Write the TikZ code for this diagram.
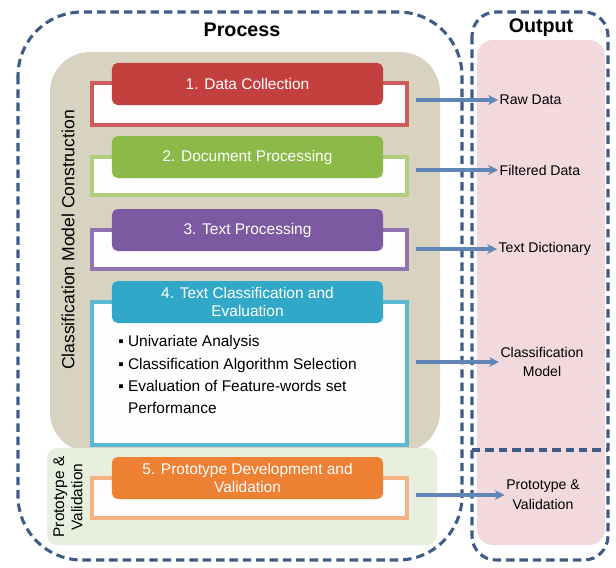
\documentclass[tikz,border=0pt]{standalone}
\usepackage{fontspec}
\setmainfont{Liberation Sans}
\usetikzlibrary{positioning,arrows.meta}
\definecolor{dashblue}{RGB}{62,92,135}
\definecolor{cmcbeige}{RGB}{216,211,193}
\definecolor{pvgreen}{RGB}{233,239,223}
\definecolor{outpink}{RGB}{242,217,221}
\definecolor{arrowblue}{RGB}{96,134,184}
\definecolor{stepred}{RGB}{196,64,62}
\definecolor{stepgreen}{RGB}{140,186,72}
\definecolor{steppurple}{RGB}{124,90,162}
\definecolor{stepteal}{RGB}{50,168,200}
\definecolor{steporange}{RGB}{238,128,52}

\begin{document}
\begin{tikzpicture}[x=0.025cm, y=-0.025cm,
  header/.style={rounded corners=4pt, minimum width=6.775cm, minimum height=1.05cm, text=white, font=\fontsize{11}{12.5}\selectfont, align=center, inner sep=1pt},
  frame/.style={draw, line width=2.4pt, fill=white!97!pink, minimum width=7.875cm, inner sep=0pt},
  outlabel/.style={font=\fontsize{10}{14}\selectfont, align=center, inner sep=1pt},
  link/.style={-{Stealth[length=7pt,width=7pt]}, line width=2.6pt, arrowblue, shorten <=5pt},
  area/.style={dash pattern=on 6pt off 3.5pt, line width=2.2pt, dashblue}]
\useasboundingbox (0,0) rectangle (616,567);

% Backgrounds
\fill[cmcbeige, rounded corners=1cm] (50,52) rectangle (440,452);
\fill[pvgreen, rounded corners=0.25cm] (47,448) rectangle (437,545);
\fill[outpink, rounded corners=0.4cm] (477,40) rectangle (605,545);

% Dashed groups
\draw[area, rounded corners=1.6cm] (18,12) rectangle (462,560);
\draw[area, rounded corners=0.6cm] (472,12) rectangle (608,560);
\draw[area] (472,450) -- (608,450);

% Titles
\node[font=\bfseries\fontsize{14}{16}\selectfont] (proctitle) at (242,30) {Process};
\node[font=\bfseries\fontsize{14}{16}\selectfont] (outtitle) at (541,28) {Output};

% Side labels
\node[rotate=90, font=\fontsize{12.5}{14}\selectfont] (cmclabel) at (68,240) {Classification Model Construction};
\node[rotate=90, align=center, font=\fontsize{11}{13}\selectfont] (pvlabel) at (68,497) {Prototype \&\\Validation};

% Frames
\node[frame, draw=stepred!85, minimum height=1.05cm] (o1) at (249.5,104) {};
\node[frame, draw=stepgreen!70, minimum height=0.95cm] (o2) at (249.5,176) {};
\node[frame, draw=steppurple!85, minimum height=0.975cm] (o3) at (249.5,249.5) {};
\node[frame, draw=stepteal!80, minimum height=3.575cm] (o4) at (249.5,373.5) {};
\node[frame, draw=steporange!60, minimum height=1.0cm] (o5) at (249.5,498) {};

% Headers
\node[header, fill=stepred] (h1) at (247.5,84) {1. Data Collection};
\node[header, fill=stepgreen] (h2) at (247.5,157) {2. Document Processing};
\node[header, fill=steppurple] (h3) at (247.5,230) {3. Text Processing};
\node[header, fill=stepteal] (h4) at (247.5,302) {4. Text Classification and\\Evaluation};
\node[header, fill=steporange] (h5) at (247.5,478) {5. Prototype Development and\\Validation};

% Bullet list
\node[anchor=north west, align=left, inner sep=0pt, font=\fontsize{11}{16}\selectfont] (bullets) at (118,335)
  {▪ Univariate Analysis\\▪ Classification Algorithm Selection\\▪ Evaluation of Feature-words set\\\phantom{▪ }Performance};

% Outputs
\node[outlabel, anchor=west] (r1) at (498,100) {Raw Data};
\node[outlabel, anchor=west] (r2) at (498,170) {Filtered Data};
\node[outlabel, anchor=west] (r3) at (497,249) {Text Dictionary};
\node[outlabel] (r4) at (542,362) {Classification\\Model};
\node[outlabel] (r5) at (543,495) {Prototype \&\\Validation};

% Arrows
\draw[link] (r1.west -| o1.east) -- (r1.west);
\draw[link] (r2.west -| o2.east) -- (r2.west);
\draw[link] (r3.west -| o3.east) -- (r3.west);
\draw[link] (r4.west -| o4.east) -- (r4.west);
\draw[link] (r5.west -| o5.east) -- (r5.west);
\end{tikzpicture}
\end{document}
